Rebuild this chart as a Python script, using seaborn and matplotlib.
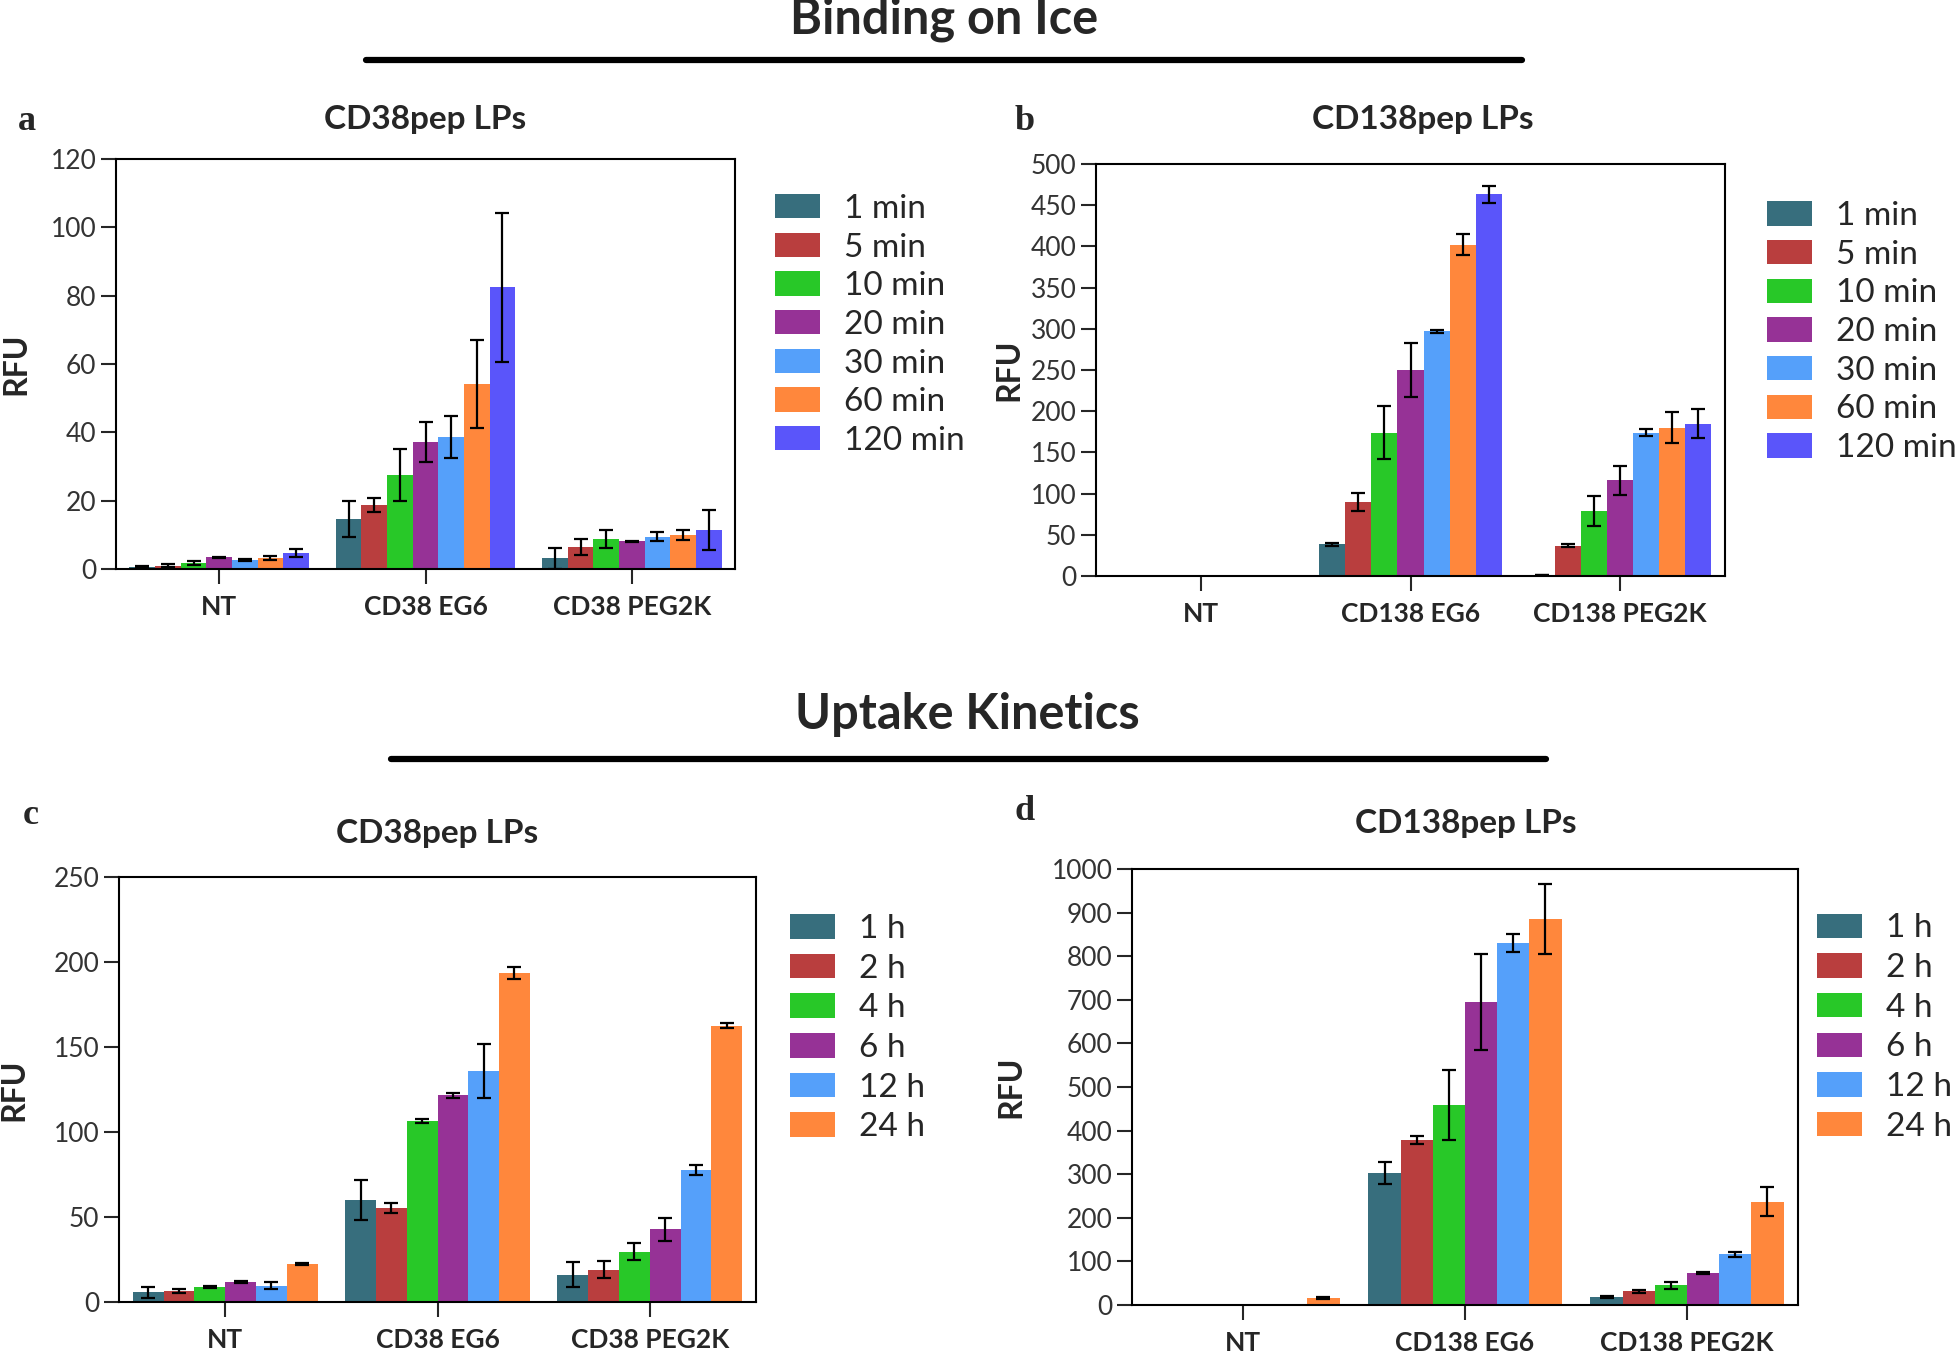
import seaborn as sns
import matplotlib.pyplot as plt
import pandas as pd
import numpy as np
from matplotlib.lines import Line2D
from matplotlib.container import BarContainer

# time points
binding_times = ["1 min", "5 min", "10 min", "20 min", "30 min", "60 min", "120 min"]
uptake_times = ["1 h", "2 h", "4 h", "6 h", "12 h", "24 h"]

cd38_groups = ["NT", "CD38 EG6", "CD38 PEG2K"]
cd138_groups = ["NT", "CD138 EG6", "CD138 PEG2K"]

# a: CD38pep LPs, binding on ice (rows = group, cols = time)
a_mean = [[0.6, 1.0, 1.8, 3.4, 2.6, 3.2, 4.6],
          [14.6, 18.7, 27.5, 37.1, 38.7, 54.1, 82.4],
          [3.1, 6.5, 8.8, 8.1, 9.5, 10.0, 11.4]]
a_err = [[0.2, 0.5, 0.5, 0.1, 0.3, 0.7, 1.2],
         [5.3, 2.0, 7.7, 5.9, 6.1, 12.8, 21.7],
         [3.0, 2.3, 2.7, 0.1, 1.2, 1.4, 5.8]]

# b: CD138pep LPs, binding on ice
b_mean = [[0, 0, 0, 0, 0, 0, 0],
          [38.5, 90, 174, 250, 297, 402, 463],
          [1, 37, 79, 116, 174, 180, 185]]
b_err = [[0, 0, 0, 0, 0, 0, 0],
         [2, 11, 32, 33, 2, 12.5, 10.5],
         [0, 2, 18, 18, 4.5, 19, 18]]

# c: CD38pep LPs, uptake kinetics
c_mean = [[5.7, 6.3, 8.8, 11.6, 9.6, 22.4],
          [59.8, 55.4, 106.6, 121.7, 136, 193.5],
          [16.1, 19.1, 29.5, 42.7, 77.7, 162.6]]
c_err = [[3.4, 1.2, 0.5, 0.5, 2.0, 0.5],
         [11.8, 2.9, 1.2, 1.5, 16, 3.3],
         [7.4, 4.8, 5.0, 6.7, 2.7, 1.3]]

# d: CD138pep LPs, uptake kinetics
d_mean = [[0, 0, 0, 0, 0, 15.3],
          [303, 378, 459, 695, 831, 886],
          [18, 31, 45, 73, 116, 237]]
d_err = [[0, 0, 0, 0, 0, 2],
         [24.5, 8.5, 80.6, 109, 21, 80],
         [2, 3, 8, 2, 5, 33]]

colors = ["#376E7D", "#B93E3E", "#28C828", "#963296", "#55A0FA", "#FF873C", "#5A55FA"]

sns.set_style("ticks")
plt.rcParams["font.family"] = ["Lato", "DejaVu Sans"]
plt.rcParams["axes.linewidth"] = 1.5

W, H = 1960, 1360
fig = plt.figure(figsize=(W / 100, H / 100), dpi=100)


def px_axes(left, top, right, bottom):
    return fig.add_axes([left / W, 1 - bottom / H, (right - left) / W, (bottom - top) / H])


def panel(ax, groups, times, mean, err, ymax, ystep, leg_anchor, spacing):
    df = pd.DataFrame([(g, t, mean[i][j])
                       for i, g in enumerate(groups) for j, t in enumerate(times)],
                      columns=["group", "time", "value"])
    sns.barplot(data=df, x="group", y="value", hue="time", order=groups, hue_order=times,
                palette=colors[:len(times)], width=0.87, errorbar=None, saturation=1,
                linewidth=0, ax=ax)
    # error bars on top of each bar
    bars = [c for c in ax.containers if isinstance(c, BarContainer)]
    for j, cont in enumerate(bars):
        for i, bar in enumerate(cont):
            v, e = mean[i][j], err[i][j]
            if v == 0:
                continue
            ax.errorbar(bar.get_x() + bar.get_width() / 2, v, yerr=e, fmt="none",
                        ecolor="black", elinewidth=1.6, capsize=5, capthick=1.6)
    ax.set_ylim(0, ymax)
    ax.set_xlim(-0.5, 2.5)
    ax.set_yticks(np.arange(0, ymax + 1, ystep))
    ax.set_xlabel("")
    ax.set_ylabel("")
    for s in ax.spines.values():
        s.set_visible(True)
        s.set_color("black")
        s.set_linewidth(1.5)
    ax.tick_params(axis="y", length=11, width=1.5, labelsize=19, labelcolor="#333333", pad=3)
    ax.tick_params(axis="x", length=11, width=1.5, labelsize=19, pad=8)
    for lab in ax.get_xticklabels():
        lab.set_fontweight("bold")
    sns.move_legend(ax, "upper left", bbox_to_anchor=leg_anchor, frameon=False, title=None,
                    fontsize=24, handlelength=1.35, handleheight=0.75, labelspacing=spacing,
                    handletextpad=0.72, borderaxespad=0, borderpad=0)


ax_a = px_axes(116, 159, 735, 569)
panel(ax_a, cd38_groups, binding_times, a_mean, a_err, 120, 20, (1.065, 0.915), 0.26)
ax_b = px_axes(1096, 164, 1725, 576)
panel(ax_b, cd138_groups, binding_times, b_mean, b_err, 500, 50, (1.066, 0.91), 0.26)
ax_c = px_axes(119, 877, 756, 1302)
panel(ax_c, cd38_groups, uptake_times, c_mean, c_err, 250, 50, (1.053, 0.913), 0.29)
ax_d = px_axes(1132, 869, 1798, 1305)
panel(ax_d, cd138_groups, uptake_times, d_mean, d_err, 1000, 100, (1.029, 0.898), 0.29)


def ftext(x, y, s, va="center", **kw):
    fig.text(x / W, 1 - y / H, s, ha="center", va=va, **kw)


# section headers with rule lines
ftext(944, 34, "Binding on Ice", va="baseline", fontsize=35, fontweight="bold")
fig.add_artist(Line2D([366 / W, 1522 / W], [1 - 60 / H] * 2, color="black", lw=4.5))
ftext(967, 729, "Uptake Kinetics", va="baseline", fontsize=35, fontweight="bold")
fig.add_artist(Line2D([391 / W, 1546 / W], [1 - 759 / H] * 2, color="black", lw=4.5))

# panel titles
ftext(425, 119, "CD38pep LPs", fontsize=24, fontweight="bold")
ftext(1423, 119, "CD138pep LPs", fontsize=24, fontweight="bold")
ftext(437, 834, "CD38pep LPs", fontsize=24, fontweight="bold")
ftext(1466, 824, "CD138pep LPs", fontsize=24, fontweight="bold")

# panel letters
for x, y, s in [(27, 121, "a"), (1025, 121, "b"), (31, 815, "c"), (1025, 812, "d")]:
    ftext(x, y, s, fontsize=26, fontweight="bold", family="Liberation Serif")

# y-axis labels
for x, y in [(16, 364), (1009, 370), (14, 1090), (1011, 1087)]:
    ftext(x, y, "RFU", fontsize=23, fontweight="bold", rotation=90)

fig.savefig("out.png", dpi=100)
